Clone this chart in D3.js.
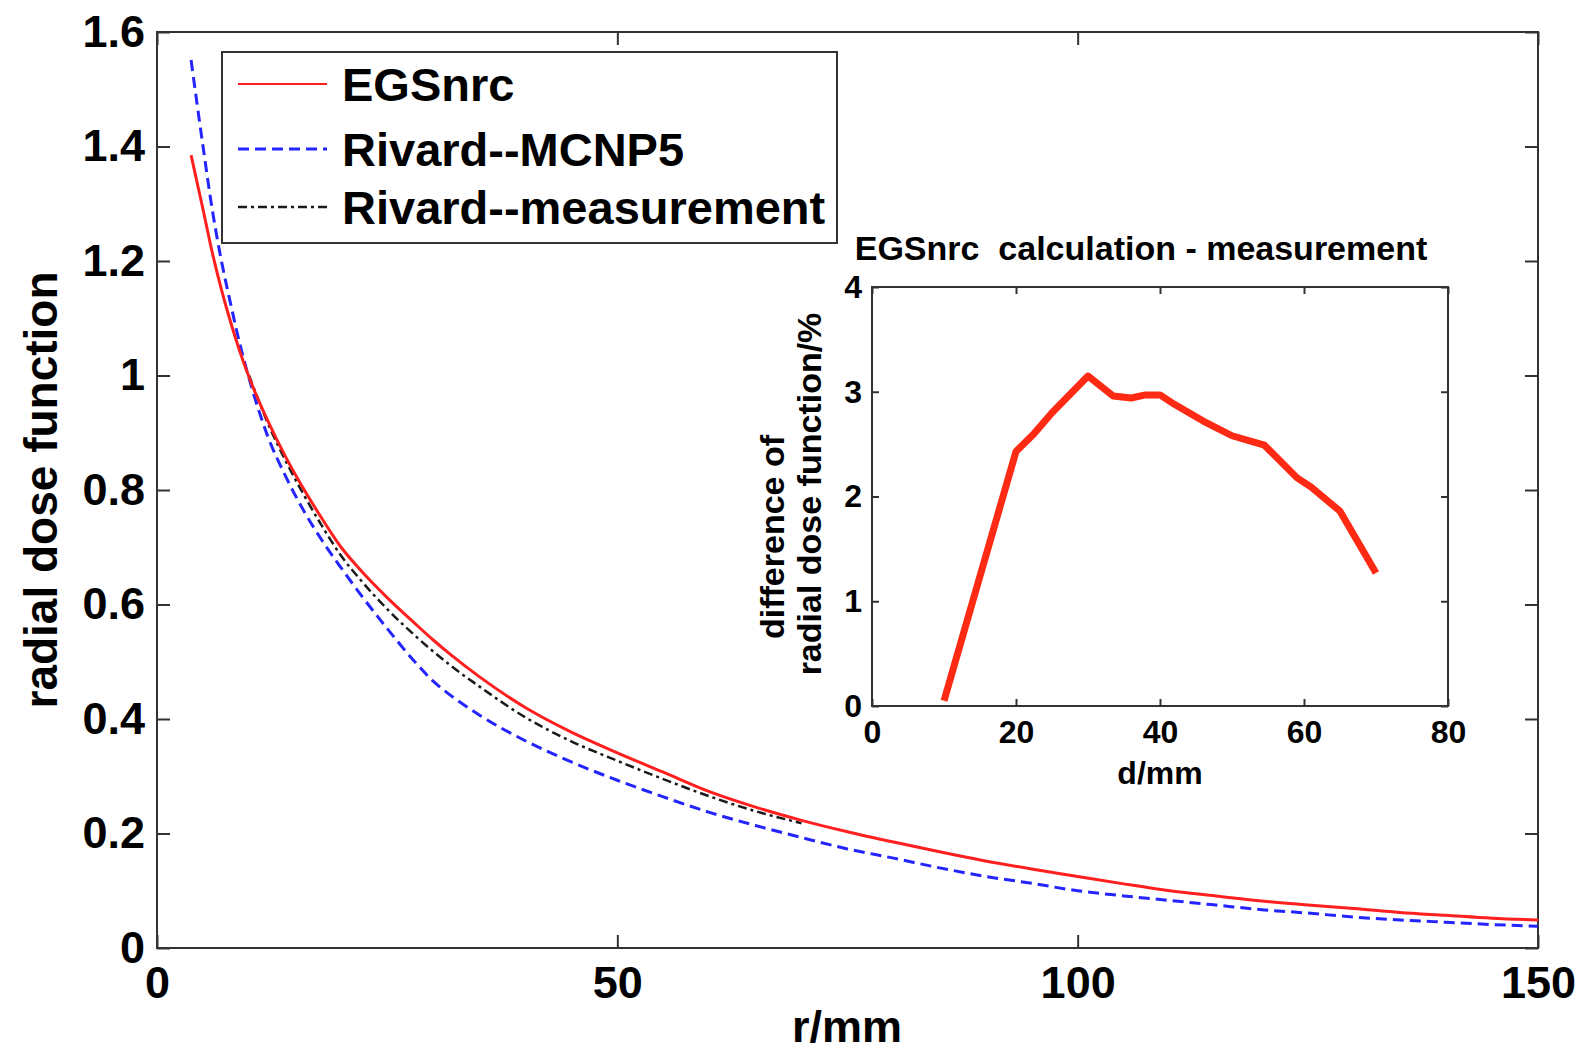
<!DOCTYPE html>
<html>
<head>
<meta charset="utf-8">
<script src="https://cdn.jsdelivr.net/npm/d3@7"></script>
<style>
body { margin: 0; background: #fff; }
text { font-family: "Liberation Sans", Arial, sans-serif; font-weight: bold; fill: #000; }
</style>
</head>
<body>
<div id="chart"></div>
<script>
// main plot data
var rEGS = [3.7, 5, 6, 7, 8, 9, 10, 12, 14, 16, 18, 20, 22, 25, 28, 30, 32, 35, 40, 45, 50, 55, 60, 65, 70, 75, 80, 85, 90, 95, 100, 105, 110, 115, 120, 125, 130, 135, 140, 145, 150];
var gEGS = [1.385, 1.29, 1.215, 1.15, 1.093, 1.042, 0.997, 0.922, 0.857, 0.80, 0.748, 0.70, 0.662, 0.612, 0.567, 0.538, 0.511, 0.474, 0.42, 0.377, 0.341, 0.307, 0.273, 0.246, 0.223, 0.203, 0.185, 0.168, 0.152, 0.138, 0.125, 0.112, 0.100, 0.091, 0.082, 0.075, 0.069, 0.062, 0.057, 0.052, 0.049];

var rMCNP = [3.7, 5, 6, 7, 8, 9, 10, 12, 14, 16, 18, 20, 22, 25, 28, 30, 32, 35, 40, 45, 50, 55, 60, 65, 70, 75, 80, 85, 90, 95, 100, 105, 110, 115, 120, 125, 130, 135, 140, 145, 150];
var gMCNP = [1.551, 1.40, 1.29, 1.20, 1.125, 1.055, 0.995, 0.895, 0.823, 0.762, 0.71, 0.664, 0.62, 0.558, 0.500, 0.466, 0.440, 0.407, 0.362, 0.325, 0.293, 0.264, 0.237, 0.214, 0.193, 0.173, 0.157, 0.14, 0.125, 0.113, 0.100, 0.091, 0.083, 0.075, 0.067, 0.061, 0.054, 0.049, 0.045, 0.041, 0.038];

var rMeas = [10, 12, 14, 16, 18, 20, 22, 25, 28, 30, 32, 35, 40, 45, 50, 55, 60, 65, 70];
var gMeas = [1.0, 0.918, 0.85, 0.79, 0.735, 0.685, 0.645, 0.592, 0.546, 0.518, 0.492, 0.457, 0.403, 0.361, 0.327, 0.295, 0.265, 0.239, 0.218];

var rTicks = [0, 50, 100, 150];
var rTickLabels = ["0", "50", "100", "150"];
var gTicks = [0, 0.2, 0.4, 0.6, 0.8, 1.0, 1.2, 1.4, 1.6];
var gTickLabels = ["0", "0.2", "0.4", "0.6", "0.8", "1", "1.2", "1.4", "1.6"];

var seriesNames = ["EGSnrc", "Rivard--MCNP5", "Rivard--measurement"];

// inset data
var dDiff = [10, 20, 22.5, 25, 30, 33.5, 36, 38, 40, 42, 46, 50, 54.5, 59, 61, 65, 70];
var vDiff = [0.05, 2.43, 2.6, 2.8, 3.15, 2.96, 2.94, 2.97, 2.97, 2.88, 2.72, 2.58, 2.49, 2.18, 2.09, 1.86, 1.27];
var dTicks = [0, 20, 40, 60, 80];
var vTicks = [0, 1, 2, 3, 4];

var svg = d3.select("#chart").append("svg")
    .attr("width", 1591)
    .attr("height", 1054);

var axisColor = "#333";

var x = d3.scaleLinear().domain([0, 150]).range([157, 1538]);
var y = d3.scaleLinear().domain([0, 1.6]).range([948, 32]);

function styleAxis(g, fs) {
    g.select(".domain").remove();
    g.selectAll(".tick line").attr("stroke", axisColor).attr("stroke-width", 2);
    g.selectAll(".tick text").style("font-size", fs + "px").attr("fill", "#000");
}

// main axes
svg.append("g").attr("transform", "translate(0,948)")
    .call(d3.axisBottom(x).tickValues(rTicks).tickSize(-13).tickPadding(18)
        .tickFormat(function(d, i) { return rTickLabels[i]; }))
    .call(styleAxis, 45);
svg.append("g").attr("transform", "translate(0,32)")
    .call(d3.axisTop(x).tickValues(rTicks).tickSize(-13).tickFormat(""))
    .call(styleAxis, 45);
svg.append("g").attr("transform", "translate(157,0)")
    .call(d3.axisLeft(y).tickValues(gTicks).tickSize(-13).tickPadding(12)
        .tickFormat(function(d, i) { return gTickLabels[i]; }))
    .call(styleAxis, 45);
svg.append("g").attr("transform", "translate(1538,0)")
    .call(d3.axisRight(y).tickValues(gTicks).tickSize(-13).tickFormat(""))
    .call(styleAxis, 45);

svg.append("rect")
    .attr("x", 157).attr("y", 32)
    .attr("width", 1381).attr("height", 916)
    .attr("fill", "none").attr("stroke", axisColor).attr("stroke-width", 2);

var line = d3.line()
    .x(function(d) { return x(d[0]); })
    .y(function(d) { return y(d[1]); })
    .curve(d3.curveMonotoneX);

var styles = [
    { color: "#ff1f1f", width: 3, dash: null },
    { color: "#2424ff", width: 3, dash: "11,6" },
    { color: "#1a1a1a", width: 2.5, dash: "9,4,3,4" }
];

var seriesData = [
    d3.zip(rEGS, gEGS),
    d3.zip(rMCNP, gMCNP),
    d3.zip(rMeas, gMeas)
];

// draw black first, then blue, red on top
[2, 1, 0].forEach(function(k) {
    svg.append("path")
        .datum(seriesData[k])
        .attr("d", line)
        .attr("fill", "none")
        .attr("stroke", styles[k].color)
        .attr("stroke-width", styles[k].width)
        .attr("stroke-dasharray", styles[k].dash);
});

svg.append("text")
    .attr("transform", "translate(41,490) rotate(-90)")
    .attr("text-anchor", "middle")
    .attr("dy", "0.35em")
    .style("font-size", "46px")
    .text("radial dose function");

svg.append("text")
    .attr("x", 847).attr("y", 1042)
    .attr("text-anchor", "middle")
    .style("font-size", "45px")
    .text("r/mm");

// legend
var legend = svg.append("g");
legend.append("rect")
    .attr("x", 222).attr("y", 52)
    .attr("width", 615).attr("height", 191)
    .attr("fill", "#fff").attr("stroke", axisColor).attr("stroke-width", 2);
var legRows = [84, 149, 207];
seriesNames.forEach(function(name, i) {
    legend.append("line")
        .attr("x1", 238).attr("x2", 327)
        .attr("y1", legRows[i]).attr("y2", legRows[i])
        .attr("stroke", styles[i].color)
        .attr("stroke-width", i === 0 ? 2 : styles[i].width)
        .attr("stroke-dasharray", styles[i].dash);
    legend.append("text")
        .attr("x", 342).attr("y", legRows[i] + 17)
        .style("font-size", "47px")
        .text(name);
});

// inset
var x2 = d3.scaleLinear().domain([0, 80]).range([872, 1448]);
var y2 = d3.scaleLinear().domain([0, 4]).range([706, 287]);

svg.append("rect")
    .attr("x", 872).attr("y", 287)
    .attr("width", 576).attr("height", 419)
    .attr("fill", "#fff");

svg.append("g").attr("transform", "translate(0,706)")
    .call(d3.axisBottom(x2).tickValues(dTicks).tickSize(-7).tickPadding(14).tickFormat(d3.format("d")))
    .call(styleAxis, 32);
svg.append("g").attr("transform", "translate(0,287)")
    .call(d3.axisTop(x2).tickValues(dTicks).tickSize(-7).tickFormat(""))
    .call(styleAxis, 32);
svg.append("g").attr("transform", "translate(872,0)")
    .call(d3.axisLeft(y2).tickValues(vTicks).tickSize(-7).tickPadding(10).tickFormat(d3.format("d")))
    .call(styleAxis, 32);
svg.append("g").attr("transform", "translate(1448,0)")
    .call(d3.axisRight(y2).tickValues(vTicks).tickSize(-7).tickFormat(""))
    .call(styleAxis, 32);

svg.append("rect")
    .attr("x", 872).attr("y", 287)
    .attr("width", 576).attr("height", 419)
    .attr("fill", "none").attr("stroke", axisColor).attr("stroke-width", 2);

svg.append("path")
    .datum(d3.zip(dDiff, vDiff))
    .attr("d", d3.line()
        .x(function(d) { return x2(d[0]); })
        .y(function(d) { return y2(d[1]); }))
    .attr("fill", "none")
    .attr("stroke", "#ff2a14")
    .attr("stroke-width", 7)
    .attr("stroke-linejoin", "round");

svg.append("text")
    .attr("x", 1141).attr("y", 260)
    .attr("text-anchor", "middle")
    .style("font-size", "34px")
    .style("white-space", "pre")
    .text("EGSnrc  calculation - measurement");

svg.append("text")
    .attr("x", 1160).attr("y", 784)
    .attr("text-anchor", "middle")
    .style("font-size", "32px")
    .text("d/mm");

svg.append("text")
    .attr("transform", "translate(772,537) rotate(-90)")
    .attr("text-anchor", "middle")
    .attr("dy", "0.35em")
    .style("font-size", "34px")
    .text("difference of");
svg.append("text")
    .attr("transform", "translate(809,494) rotate(-90)")
    .attr("text-anchor", "middle")
    .attr("dy", "0.35em")
    .style("font-size", "34px")
    .text("radial dose function/%");
</script>
</body>
</html>
